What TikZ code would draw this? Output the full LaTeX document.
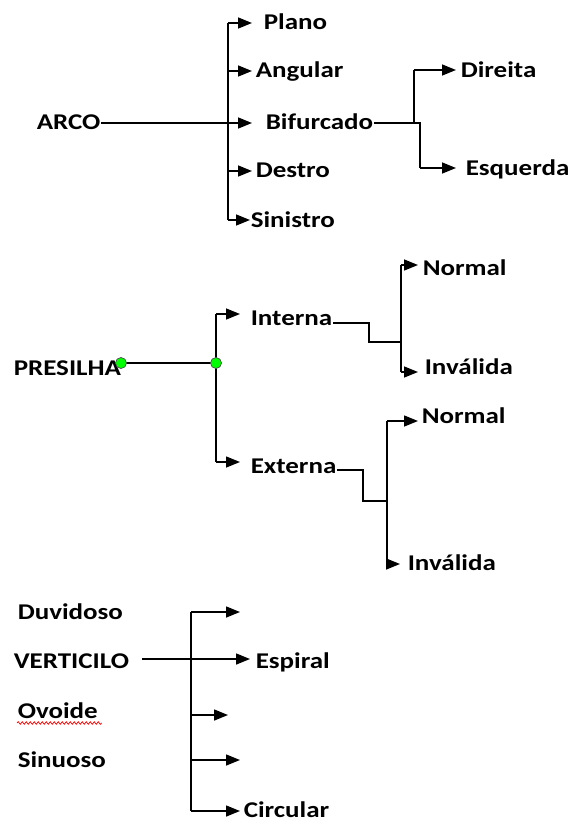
\documentclass[tikz,border=0pt]{standalone}
\usepackage{fontspec}
\setmainfont{Carlito}[FakeStretch=1.2]
\usepackage{tikz}
\usetikzlibrary{arrows.meta,decorations.pathmorphing}
\tikzstyle{rotulo}=[anchor=base west,inner sep=0pt,font=\fontsize{22.5}{24}\selectfont\bfseries]
\tikzstyle{seta}=[-{Triangle[length=14pt,width=11pt]}]
\tikzstyle{ponto}=[circle,fill=green,draw=black!70,line width=0.7pt,minimum size=11pt,inner sep=0pt]
\tikzstyle{onda}=[red,line width=0.7pt,decorate,decoration={snake,amplitude=1.3pt,segment length=4pt}]

\begin{document}
\begin{tikzpicture}[x=1pt,y=-1pt,line width=1.5pt]
		\useasboundingbox (0,0) rectangle (577,822);
		% arco
		\node[rotulo] (arco) at (36,129) {ARCO};
		\node[rotulo] (plano) at (263,29) {Plano};
		\node[rotulo] (angular) at (255,77) {Angular};
		\node[rotulo] (bifurcado) at (265,129) {Bifurcado};
		\node[rotulo] (destro) at (255,177) {Destro};
		\node[rotulo] (sinistro) at (250,227) {Sinistro};
		\node[rotulo] (direita) at (460,77) {Direita};
		\node[rotulo] (esquerda) at (465,175) {Esquerda};
		\coordinate (a1) at (228,23);
		\coordinate (a2) at (228,71);
		\coordinate (a3) at (228,123);
		\coordinate (a4) at (228,171);
		\coordinate (a5) at (228,220);
		\draw (a1) -- (a5);
		\draw (a3 -| arco.east) -- (a3);
		\draw[seta,shorten >=11pt] (a1) -- (a1 -| plano.west);
		\draw[seta,shorten >=3pt] (a2) -- (a2 -| angular.west);
		\draw[seta,shorten >=13pt] (a3) -- (a3 -| bifurcado.west);
		\draw[seta,shorten >=3pt] (a4) -- (a4 -| destro.west);
		\draw[seta] (a5) -- (a5 -| sinistro.west);
		% bifurcado
		\coordinate (b1) at (414,123);
		\coordinate (b2) at (420,123);
		\coordinate (b3) at (414,70);
		\coordinate (b4) at (420,168);
		\draw (a3 -| bifurcado.east) -- (b2) -- (b4);
		\draw (b1) -- (b3);
		\draw[seta,shorten >=4pt] (b3) -- (b3 -| direita.west);
		\draw[seta,shorten >=9pt] (b4) -- (b4 -| esquerda.west);

		% presilha
		\node[rotulo] (presilha) at (13,375) {PRESILHA};
		\node[rotulo] (interna) at (250,325) {Interna};
		\node[rotulo] (externa) at (250,473) {Externa};
		\coordinate (p0) at (121,363);
		\coordinate (p1) at (216,363);
		\coordinate (p2) at (216,314);
		\coordinate (p3) at (216,462);
		\draw (p0) -- (p1);
		\draw (p2) -- (p3);
		\draw[seta,shorten >=10pt] (p2) -- (p2 -| interna.west);
		\draw[seta,shorten >=10pt] (p3) -- (p3 -| externa.west);
		\node[ponto] (d1) at (p0) {};
		\node[ponto] (d2) at (p1) {};
		% interna
		\node[rotulo] (normalI) at (422,275) {Normal};
		\node[rotulo] (invalidaI) at (424,374) {Inválida};
		\coordinate (i1) at (369,323);
		\coordinate (i2) at (369,342);
		\coordinate (i3) at (401,342);
		\coordinate (i4) at (401,265);
		\coordinate (i5) at (401,372);
		\draw (i1 -| interna.east) -- (i1) -- (i2) -- (i3);
		\draw (i4) -- (i5);
		\draw[seta,shorten >=4pt] (i4) -- (i4 -| normalI.west);
		\draw[seta,shorten >=6pt] (i5) -- (i5 -| invalidaI.west);
		% externa
		\node[rotulo] (normalE) at (421,423) {Normal};
		\node[rotulo] (invalidaE) at (407,570) {Inválida};
		\coordinate (e1) at (363,470);
		\coordinate (e2) at (363,501);
		\coordinate (e3) at (387,501);
		\coordinate (e4) at (387,421);
		\coordinate (e5) at (387,564);
		\draw (e1 -| externa.east) -- (e1) -- (e2) -- (e3);
		\draw (e4) -- (e5);
		\draw[seta,shorten >=3pt] (e4) -- (e4 -| normalE.west);
		\draw[seta,shorten >=7pt] (e5) -- (e5 -| invalidaE.west);

		% verticilo
		\node[rotulo] (duvidoso) at (17,619) {Duvidoso};
		\node[rotulo] (verticilo) at (13,668) {VERTICILO};
		\node[rotulo] (ovoide) at (17,718) {Ovoide};
		\node[rotulo] (sinuoso) at (17,767) {Sinuoso};
		\node[rotulo] (espiral) at (255,668) {Espiral};
		\node[rotulo] (circular) at (243,817) {Circular};
		\draw[onda] ([yshift=-5pt]ovoide.base west) -- ([yshift=-5pt,xshift=3pt]ovoide.base east);
		\coordinate (v0) at (142,659);
		\coordinate (v1) at (191,612);
		\coordinate (v2) at (191,715);
		\coordinate (v3) at (191,760);
		\coordinate (v4) at (191,811);
		\coordinate (w1) at (240,612);
		\coordinate (w2) at (228,715);
		\coordinate (w3) at (240,760);
		\draw (v1) -- (v4);
		\draw[seta,shorten >=5pt] (v0) -- (v0 -| espiral.west);
		\draw[seta] (v1) -- (w1);
		\draw[seta] (v2) -- (w2);
		\draw[seta] (v3) -- (w3);
		\draw[seta,shorten >=3pt] (v4) -- (v4 -| circular.west);
	\end{tikzpicture}
\end{document}
